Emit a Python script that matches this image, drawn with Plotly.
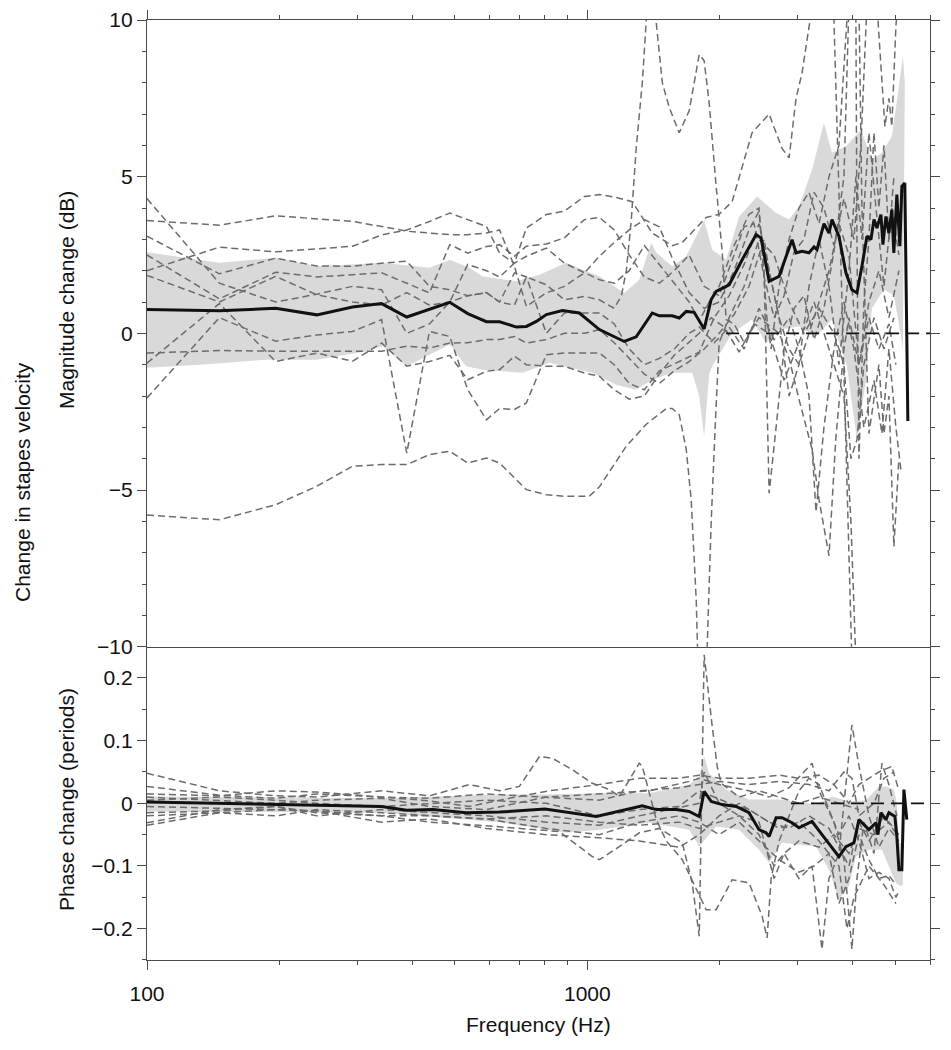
import math
import plotly.graph_objects as go
from plotly.subplots import make_subplots

# ---------------- Magnitude panel (dB) : individual ears (Hz, dB) ----------------
MAG_T1 = [(100,4.3),(146,1.6),(196,1.0),(243,1.25),(293,1.5),(341,1.39),(389,0.0),(438,0.3),(487,1.0),(535,2.2),(590,2.0),(632,1.8),(683,2.24),(727,3.36),(807,3.79),(887,3.9),(985,4.37),(1065,4.43),(1151,4.35),(1265,4.2),(1404,3.2),(1559,2.8),(1643,2.9),(1862,3.7),(1992,3.8),(2132,4.2),(2366,6.4),(2587,7.0),(2768,5.9),(2872,5.6),(2978,7.5),(3072,8.3),(3221,10.2),(3358,12),(3538,12),(3631,10),(3727,4.5),(3826,-1),(3989,-10.5)]
MAG_T2 = [(100,3.6),(146,3.45),(196,3.75),(243,3.65),(293,3.57),(341,3.41),(389,3.26),(438,3.2),(487,3.15),(535,3.15),(590,3.2),(632,3.3),(683,2.14),(727,0.86),(807,1.29),(887,1.5),(985,1.93),(1065,2.46),(1151,2.9),(1245,3.3),(1347,3.63),(1457,3.4),(1559,2.4),(1703,1.3),(1842,0.8),(1992,1.0),(2154,2.0),(2329,3.3),(2454,3.9),(2520,2.0),(2587,-5.1),(2683,-3.0),(2797,-0.5),(2948,0.8),(3104,1.2),(3272,-0.2),(3446,0.8),(3631,2.6),(3826,5.0),(3927,10.5),(4031,12),(4138,10.5),(4203,4),(4360,-3.2),(4593,-1),(4716,-3.2),(4840,-2.0),(4968,-6.8),(5100,-4.0)]
MAG_T3 = [(100,3.1),(146,1.9),(196,2.4),(243,2.15),(293,2.14),(341,2.24),(389,2.3),(438,1.5),(487,1.39),(535,1.2),(590,1.3),(632,1.0),(683,0.9),(727,1.8),(807,1.55),(887,1.07),(985,1.18),(1065,1.07),(1151,0.8),(1195,1.2),(1226,2.0),(1258,3.6),(1291,5.9),(1333,8.0),(1361,10.0),(1397,11.5),(1434,9.9),(1480,8.0),(1535,7.2),(1617,6.4),(1703,7.1),(1795,8.9),(1842,8.7),(1891,7.35),(1961,4.7),(2024,2.6),(2066,0.44),(2154,0.3),(2270,-0.3),(2454,0.5),(2725,0.0),(2872,-0.8),(3024,-2.1),(3238,-3.7),(3358,-5.3),(3538,-7.1),(3669,-3.3),(3826,-0.5),(3927,0.5),(4138,-1.0),(4360,0.5),(4593,-0.5),(4840,0.3),(5020,-1.0)]
MAG_T4 = [(100,2.5),(146,1.1),(196,1.95),(243,1.8),(293,1.87),(341,1.93),(389,1.6),(438,1.29),(487,2.83),(535,2.56),(590,2.77),(632,2.83),(683,2.46),(727,2.78),(807,2.85),(887,3.05),(985,3.63),(1065,3.7),(1151,3.3),(1245,2.5),(1347,1.8),(1457,1.6),(1575,2.0),(1703,2.5),(1842,1.5),(1992,1.2),(2154,2.5),(2270,3.4),(2391,3.5),(2520,1.8),(2655,0.5),(2797,1.2),(2948,2.6),(3104,3.0),(3272,4.5),(3446,4.0),(3631,2.8),(3826,4.3),(4031,3.0),(4181,6.0),(4315,10.5),(4429,12),(4546,10.5),(4642,8.5),(4740,6.6),(4840,7.5),(4915,6.6),(5020,9.8),(5100,11)]
MAG_T5 = [(100,2.0),(146,2.75),(196,2.6),(243,2.7),(293,2.78),(341,3.14),(389,3.3),(438,3.57),(487,3.84),(535,3.63),(590,3.41),(632,2.56),(683,2.24),(727,2.46),(807,2.72),(887,2.24),(985,1.93),(1065,1.71),(1151,1.6),(1245,2.0),(1347,2.8),(1457,2.2),(1575,1.6),(1703,1.0),(1795,0.4),(1891,1.0),(1992,1.5),(2154,2.8),(2329,3.8),(2454,4.0),(2560,0.4),(2614,-0.5),(2725,1.5),(2872,3.0),(3024,4.0),(3187,4.5),(3358,3.5),(3538,5.0),(3727,6.0),(3886,10.5),(3968,12),(4031,12),(4073,10),(4095,3),(4138,-4),(4181,-2),(4247,1),(4360,3),(4476,6.4),(4593,4),(4716,6),(4840,3),(4968,5)]
MAG_T6 = [(100,1.85),(146,1.0),(196,1.82),(243,1.23),(293,1.0),(341,0.9),(389,1.3),(438,0.9),(487,1.0),(535,1.2),(590,1.3),(632,1.0),(683,1.93),(727,1.8),(807,0.0),(887,0.65),(985,0.65),(1065,0.65),(1151,0.3),(1245,-0.5),(1347,-1.0),(1457,-0.8),(1575,-0.5),(1703,0.0),(1795,0.2),(1941,-0.3),(2099,0.2),(2270,-0.5),(2454,0.8),(2655,-0.2),(2872,0.5),(3024,-0.5),(3187,-2.0),(3306,-5.7),(3446,-3.0),(3631,-0.5),(3826,1.0),(4031,-0.5),(4247,-3.0),(4476,-1.5),(4666,-3.2),(4840,-0.5),(5020,-3.0),(5152,-4.35)]
MAG_T7 = [(100,-0.63),(146,-0.55),(196,-0.57),(243,-0.57),(293,-0.57),(341,-0.57),(389,-0.41),(438,-0.47),(487,-0.31),(535,-0.3),(590,-0.2),(632,-0.2),(683,-0.1),(727,-0.31),(807,-0.2),(887,0.0),(985,0.0),(1065,0.12),(1151,-0.3),(1245,-0.8),(1347,-1.3),(1457,-1.6),(1575,-1.2),(1703,-0.9),(1842,-0.5),(1992,0.0),(2154,0.6),(2329,1.5),(2520,3.0),(2587,2.0),(2725,0.5),(2872,-0.5),(3024,-1.0),(3272,0.5),(3538,2.0),(3727,3.5),(3927,2.5),(4138,-1.0),(4360,1.0),(4593,2.0),(4840,0.5),(5100,2.0)]
MAG_T8 = [(100,-0.95),(146,0.95),(196,-0.9),(243,-0.63),(293,-0.89),(341,-0.31),(389,-1.05),(438,-0.9),(487,-0.7),(535,-1.48),(590,-1.21),(632,-1.16),(683,-0.73),(727,-1.0),(807,-1.05),(887,-1.05),(985,-1.27),(1065,-1.37),(1151,-1.8),(1245,-2.1),(1347,-2.0),(1457,-1.3),(1575,-0.7),(1703,-0.3),(1795,0.0),(1911,0.5),(2045,0.2),(2212,-0.6),(2391,0.3),(2587,0.0),(2797,-1.5),(3024,-0.3),(3272,1.0),(3538,-0.5),(3826,-2.0),(3968,-6),(4073,-10.5)]
MAG_T9 = [(100,-2.06),(146,0.5),(196,-0.25),(243,-0.05),(293,0.06),(341,0.44),(389,-3.82),(438,0.06),(487,-0.1),(535,-1.8),(590,-2.76),(632,-2.4),(683,-2.43),(727,-2.22),(807,-0.68),(887,-0.63),(985,-0.63),(1065,-0.63),(1151,-1.0),(1245,-1.6),(1347,-1.8),(1457,-1.2),(1617,-0.9),(1795,-0.6),(1941,0.5),(2099,1.2),(2270,2.2),(2454,3.5),(2587,2.0),(2725,0.5),(2872,-2.0),(3024,-1.0),(3187,1.5),(3358,3.0),(3538,1.5),(3727,-1.0),(3927,2.0),(4073,5.0),(4203,3.0),(4360,6.4),(4523,4.0),(4716,1.5),(4915,4.0),(5100,2.5)]
MAG_T10 = [(100,-5.8),(146,-5.95),(196,-5.47),(243,-4.88),(293,-4.24),(341,-4.19),(389,-4.19),(438,-3.87),(487,-3.76),(535,-4.14),(590,-3.98),(632,-4.14),(727,-4.99),(807,-5.15),(887,-5.2),(1010,-5.2),(1065,-4.9),(1226,-3.6),(1361,-2.9),(1511,-2.4),(1559,-2.4),(1617,-2.6),(1677,-3.7),(1721,-5.3),(1767,-8.5),(1795,-12),(1852,-12),(1871,-10),(1911,-6),(1951,-3.0),(1992,-0.3),(2099,0.5),(2270,1.5),(2454,3.0),(2655,2.5),(2872,1.0),(3104,0.0),(3358,0.8),(3631,0.0),(3826,-1.0),(3968,-4),(4095,-3.4),(4247,-1.0),(4476,0.5),(4716,-0.5),(4968,0.5)]
MAG_EARS = [MAG_T1, MAG_T2, MAG_T3, MAG_T4, MAG_T5, MAG_T6, MAG_T7, MAG_T8, MAG_T9, MAG_T10]

# mean magnitude change (Hz, dB)
MAG_MEAN = [(100,0.76),(146,0.72),(196,0.80),(243,0.59),(293,0.84),(341,0.95),(389,0.52),(487,0.99),(535,0.63),(590,0.37),(632,0.37),(690,0.20),(727,0.22),(766,0.38),(807,0.60),(878,0.73),(959,0.65),(1065,0.12),(1213,-0.26),(1291,-0.11),(1404,0.65),(1457,0.56),(1559,0.56),(1617,0.49),(1677,0.70),(1748,0.67),(1842,0.14),(1911,1.08),(1961,1.34),(2099,1.55),(2247,2.35),(2417,3.15),(2481,3.04),(2587,1.66),(2725,1.82),(2917,2.99),(2978,2.57),(3072,2.62),(3187,2.57),(3272,2.76),(3323,2.67),(3446,3.50),(3538,3.20),(3594,3.63),(3727,3.10),(3866,1.93),(3989,1.39),(4095,1.29),(4203,2.14),(4315,3.10),(4406,2.99),(4476,3.63),(4546,3.36),(4642,3.79),(4691,2.83),(4764,3.73),(4839,3.20),(4915,3.95),(4966,2.57),(5045,4.43),(5125,2.78),(5179,4.69),(5260,4.80),(5315,-0.52),(5344,-2.8)]

# mean +/- 1 SD band (Hz, dB)
MAG_BAND_UP = [(100,2.59),(146,2.25),(196,2.41),(243,2.14),(341,2.25),(438,2.09),(487,2.35),(540,2.09),(577,1.82),(690,1.66),(779,1.87),(896,2.25),(975,2.03),(1065,1.82),(1213,1.29),(1312,1.71),(1397,2.89),(1434,2.57),(1559,2.14),(1677,2.46),(1842,3.60),(1921,2.67),(2066,2.35),(2212,3.73),(2429,4.37),(2683,3.84),(2872,3.63),(3024,4.05),(3238,5.22),(3446,6.71),(3594,5.76),(3866,5.97),(4181,6.50),(4429,5.54),(4666,5.76),(4915,6.29),(5100,7.88),(5206,8.84),(5260,8.0)]
MAG_BAND_LO = [(100,-1.10),(132,-1.0),(187,-0.84),(243,-0.84),(315,-0.57),(343,-0.41),(389,-1.05),(487,-0.36),(531,-1.05),(577,-1.16),(713,-1.26),(820,-0.94),(1026,-1.26),(1163,-1.64),(1291,-1.80),(1404,-1.48),(1559,-1.26),(1730,-1.26),(1795,-2.0),(1842,-3.29),(1891,-1.3),(1921,-1.05),(2132,0.0),(2366,0.44),(2546,-0.31),(2725,0.12),(3024,0.22),(3306,-0.1),(3594,0.44),(3886,-1.05),(4095,-3.4),(4292,-1.5),(4429,0.8),(4716,1.4),(4968,1.2),(5100,0.3),(5206,-0.5),(5260,8.0)]

# ---------------- Phase panel (periods) : individual ears ----------------
PH_T1 = [(100,0.048),(146,0.02),(196,0.012),(243,0.01),(341,0.02),(438,0.012),(540,0.03),(632,0.02),(701,0.027),(779,0.075),(832,0.072),(923,0.054),(1026,0.032),(1122,0.022),(1182,0.011),(1312,0.064),(1333,0.059),(1434,-0.026),(1511,-0.06),(1643,-0.09),(1862,-0.17),(1961,-0.17),(2132,-0.122),(2329,-0.127),(2494,-0.18),(2560,-0.215),(2614,-0.12),(2725,-0.06),(2872,-0.02),(3024,0.02),(3187,0.04),(3358,0.03),(3538,-0.01),(3727,-0.05),(3927,-0.02),(4138,-0.06),(4360,-0.12),(4593,-0.11),(4840,-0.12),(5020,-0.15),(5100,-0.14)]
PH_T2 = [(100,0.027),(146,0.013),(196,0.008),(243,0.015),(341,0.01),(438,0.004),(540,-0.005),(632,0.005),(820,0.02),(1065,0.03),(1312,0.04),(1617,0.04),(1795,0.045),(1992,0.04),(2329,0.04),(2725,0.045),(3024,0.04),(3358,0.045),(3631,0.03),(3927,0.0),(4138,0.03),(4593,0.05),(4915,0.059),(5100,0.02)]
PH_T3 = [(100,-0.031),(146,-0.01),(196,-0.005),(243,-0.015),(341,-0.02),(438,-0.03),(569,-0.035),(701,-0.04),(864,-0.045),(1026,-0.085),(1065,-0.09),(1182,-0.069),(1312,-0.047),(1457,-0.04),(1643,-0.063),(1730,-0.127),(1795,-0.212),(1842,0.237),(1871,0.192),(1921,0.123),(1972,0.059),(2013,0.032),(2212,0.01),(2454,0.02),(2725,0.01),(3024,0.0),(3358,0.01),(3727,0.0),(4138,-0.01)]
PH_T4 = [(100,-0.015),(146,-0.012),(196,-0.005),(243,-0.02),(341,-0.01),(438,-0.015),(590,-0.02),(807,-0.03),(1065,-0.035),(1312,-0.02),(1535,-0.01),(1795,0.0),(1842,0.05),(1992,0.0),(2212,-0.02),(2454,-0.05),(2655,-0.1),(2797,-0.08),(3024,-0.12),(3238,-0.1),(3411,-0.233),(3538,-0.12),(3727,-0.08),(3989,0.125),(4138,0.06),(4360,-0.02),(4593,-0.07),(4840,-0.04),(5100,-0.06)]
PH_T5 = [(100,0.01),(146,0.005),(196,0.0),(243,0.005),(341,0.008),(438,-0.005),(590,-0.01),(807,0.01),(1065,0.015),(1382,0.02),(1703,0.035),(1795,0.04),(1992,0.03),(2329,0.02),(2587,0.01),(2872,0.025),(3238,0.064),(3358,0.02),(3631,-0.03),(3826,-0.09),(3989,-0.233),(4095,-0.12),(4247,-0.03),(4476,-0.08),(4666,0.064),(4840,0.03),(5045,-0.02)]
PH_T6 = [(100,-0.02),(146,-0.015),(196,-0.02),(243,-0.01),(341,-0.015),(438,-0.02),(590,-0.025),(807,-0.04),(1065,-0.05),(1312,-0.03),(1617,-0.02),(1795,-0.03),(1992,-0.05),(2212,-0.03),(2454,-0.06),(2725,-0.09),(3024,-0.11),(3272,-0.1),(3538,-0.08),(3727,-0.16),(3927,-0.12),(4138,-0.05),(4360,-0.09),(4593,-0.12),(4840,-0.115),(5020,-0.13)]
PH_T7 = [(100,0.005),(146,0.01),(196,0.005),(243,0.0),(341,-0.005),(438,0.0),(590,0.005),(807,0.0),(1065,-0.02),(1312,-0.01),(1617,-0.005),(1795,0.02),(1941,0.01),(2099,0.0),(2329,-0.01),(2587,-0.03),(2872,-0.04),(3187,-0.02),(3538,-0.04),(3927,-0.1),(4138,-0.03),(4360,-0.06),(4716,-0.02),(5045,-0.05)]
PH_T8 = [(100,-0.035),(146,-0.015),(196,-0.01),(243,-0.012),(341,-0.03),(438,-0.025),(590,-0.04),(807,-0.05),(1065,-0.055),(1312,-0.06),(1617,-0.07),(1795,-0.05),(1992,-0.02),(2212,0.0),(2454,-0.02),(2725,-0.04),(3024,-0.03),(3358,-0.06),(3727,-0.1),(3886,-0.2),(4031,-0.15),(4360,-0.1),(4716,-0.13),(5020,-0.16)]
PH_T9 = [(100,0.015),(146,0.012),(196,0.02),(243,0.018),(341,0.01),(438,0.008),(590,0.015),(807,0.01),(1065,0.005),(1312,0.02),(1617,0.025),(1795,0.03),(1992,0.035),(2329,0.03),(2725,0.035),(3187,0.03),(3538,0.02),(3826,0.05),(3989,0.04),(4138,-0.02),(4476,0.0),(4716,0.04),(4968,0.05)]
PH_T10 = [(100,-0.005),(146,-0.008),(196,-0.01),(243,-0.012),(341,-0.02),(438,-0.02),(590,-0.025),(807,-0.02),(1065,-0.03),(1312,-0.035),(1617,-0.03),(1795,-0.04),(1992,-0.03),(2212,-0.02),(2454,-0.03),(2655,-0.12),(2797,-0.08),(3024,-0.06),(3358,-0.07),(3631,-0.05),(3927,-0.08),(4138,-0.04),(4476,-0.05),(4840,-0.03),(5100,-0.05)]
PH_EARS = [PH_T1, PH_T2, PH_T3, PH_T4, PH_T5, PH_T6, PH_T7, PH_T8, PH_T9, PH_T10]

PH_MEAN = [(100,0.002),(146,0.0),(196,-0.002),(341,-0.005),(389,-0.011),(446,-0.010),(531,-0.015),(632,-0.014),(801,-0.009),(1048,-0.021),(1333,-0.004),(1434,-0.010),(1592,-0.010),(1703,-0.013),(1795,-0.021),(1842,0.019),(1911,0.003),(2024,-0.002),(2177,-0.005),(2329,-0.015),(2454,-0.042),(2546,-0.047),(2587,-0.053),(2683,-0.023),(2768,-0.023),(2917,-0.031),(3024,-0.039),(3238,-0.029),(3411,-0.050),(3594,-0.071),(3727,-0.085),(3866,-0.069),(4031,-0.063),(4138,-0.026),(4360,-0.042),(4523,-0.031),(4570,-0.050),(4642,-0.015),(4764,-0.026),(4840,-0.015),(4994,-0.021),(5045,-0.053),(5100,-0.106),(5179,-0.106),(5235,0.022),(5315,-0.026)]
PH_BAND_UP = [(100,0.011),(340,0.008),(632,0.014),(807,0.014),(1065,0.016),(1382,0.016),(1703,0.03),(1795,0.043),(1842,0.075),(1891,0.048),(2066,0.022),(2329,0.006),(2768,0.006),(3306,-0.002),(3594,0.011),(3927,0.003),(4292,0.005),(4593,0.027),(4789,0.027),(4968,0.022),(5045,0.0),(5100,-0.06),(5206,-0.07)]
PH_BAND_LO = [(100,-0.013),(340,-0.015),(632,-0.03),(896,-0.047),(1065,-0.042),(1382,-0.031),(1703,-0.042),(1795,-0.069),(1961,-0.037),(2212,-0.042),(2454,-0.074),(2587,-0.095),(2768,-0.063),(3306,-0.069),(3538,-0.106),(3727,-0.154),(3927,-0.132),(4073,-0.085),(4360,-0.074),(4666,-0.074),(5020,-0.127),(5152,-0.132),(5206,-0.13)]

ZERO_MAG_FROM = 2066
ZERO_PH_FROM = 2900
F_MAX = 6000

X_MAJOR = [100, 1000]
X_MAJOR_TEXT = ["100", "1000"]
X_MINOR = [200, 300, 400, 500, 600, 700, 800, 900, 2000, 3000, 4000, 5000, 6000]
MAG_TICKS = [-10, -5, 0, 5, 10]
MAG_TICKTEXT = ["\u221210", "\u22125", "0", "5", "10"]
PH_TICKS = [-0.2, -0.1, 0, 0.1, 0.2]
PH_TICKTEXT = ["\u22120.2", "\u22120.1", "0", "0.1", "0.2"]

FONT = "Liberation Sans, Arial, Helvetica, sans-serif"
DASH_COL = "#6c6c6c"
BAND_COL = "#d9d9d9"
AX_COL = "#4a4a4a"

fig = make_subplots(rows=2, cols=1, shared_xaxes=False, vertical_spacing=0.0,
                    row_heights=[2/3, 1/3])

def xs(pairs):
    return [p[0] for p in pairs]

def ys(pairs):
    return [p[1] for p in pairs]

def add_band(up, lo, row):
    fig.add_trace(go.Scatter(x=xs(up) + xs(lo)[::-1], y=ys(up) + ys(lo)[::-1],
                             fill="toself", fillcolor=BAND_COL, line=dict(width=0),
                             mode="lines", hoverinfo="skip", showlegend=False), row=row, col=1)

add_band(MAG_BAND_UP, MAG_BAND_LO, 1)
add_band(PH_BAND_UP, PH_BAND_LO, 2)

DASH = dict(color=DASH_COL, width=1.5, dash="7px,4px")
for tr in MAG_EARS:
    fig.add_trace(go.Scatter(x=xs(tr), y=ys(tr), mode="lines", line=DASH, showlegend=False), row=1, col=1)
for tr in PH_EARS:
    fig.add_trace(go.Scatter(x=xs(tr), y=ys(tr), mode="lines", line=DASH, showlegend=False), row=2, col=1)

fig.add_trace(go.Scatter(x=[ZERO_MAG_FROM, F_MAX], y=[0, 0], mode="lines",
                         line=dict(color="#111", width=1.6, dash="13px,7px"), showlegend=False), row=1, col=1)
fig.add_trace(go.Scatter(x=[ZERO_PH_FROM, F_MAX], y=[0, 0], mode="lines",
                         line=dict(color="#111", width=1.6, dash="13px,7px"), showlegend=False), row=2, col=1)

fig.add_trace(go.Scatter(x=xs(MAG_MEAN), y=ys(MAG_MEAN), mode="lines",
                         line=dict(color="#111", width=3), showlegend=False), row=1, col=1)
fig.add_trace(go.Scatter(x=xs(PH_MEAN), y=ys(PH_MEAN), mode="lines",
                         line=dict(color="#111", width=3), showlegend=False), row=2, col=1)

TICK_FONT = dict(family=FONT, size=21, color="#111")
xr = [2, math.log10(F_MAX)]
common_x = dict(type="log", range=xr, showgrid=False, zeroline=False, automargin=False,
                showline=True, linecolor=AX_COL, linewidth=1.3,
                ticks="outside", tickcolor=AX_COL, tickwidth=1.3, ticklen=9,
                tickvals=X_MAJOR,
                minor=dict(tickvals=X_MINOR, ticks="outside", ticklen=4, tickcolor=AX_COL, tickwidth=1.3),
                tickfont=TICK_FONT)
fig.update_xaxes(**common_x, side="top", showticklabels=False, mirror=True, row=1, col=1)
fig.update_xaxes(**common_x, side="bottom", ticktext=X_MAJOR_TEXT, mirror=False, ticklabelstandoff=6,
                 row=2, col=1)

common_y = dict(showgrid=False, zeroline=False, showline=True, linecolor=AX_COL, linewidth=1.3,
                automargin=False,
                ticks="outside", tickcolor=AX_COL, tickwidth=1.3, ticklen=9, mirror="allticks",
                tickfont=TICK_FONT)
fig.update_yaxes(**common_y, range=[-10, 10], tickvals=MAG_TICKS, ticktext=MAG_TICKTEXT,
                 minor=dict(dtick=1, ticks="outside", ticklen=4, tickcolor=AX_COL, tickwidth=1.3),
                 row=1, col=1)
fig.update_yaxes(**common_y, range=[-0.25, 0.25], tickvals=PH_TICKS, ticktext=PH_TICKTEXT,
                 minor=dict(dtick=0.05, ticks="outside", ticklen=4, tickcolor=AX_COL, tickwidth=1.3),
                 row=2, col=1)

# page has an 8px body margin; plot area should span page x 147..930, y 20..960
OFF = 8
W, H = 951, 1050
L, T = 147 - OFF, 20 - OFF
PW, PH = 783, 940
R, B = W - L - PW, H - T - PH

def px_x(px):
    return (px - OFF - L) / PW

def px_y(py):
    return (H - B - (py - OFF)) / PH

ann_font = dict(family=FONT, size=21, color="#111")
fig.add_annotation(text="Change in stapes velocity", x=px_x(22), y=px_y(482), xref="paper", yref="paper",
                   textangle=-90, showarrow=False, font=ann_font, xanchor="center", yanchor="middle")
fig.add_annotation(text="Magnitude change (dB)", x=px_x(66), y=px_y(300), xref="paper", yref="paper",
                   textangle=-90, showarrow=False, font=ann_font, xanchor="center", yanchor="middle")
fig.add_annotation(text="Phase change (periods)", x=px_x(66), y=px_y(800), xref="paper", yref="paper",
                   textangle=-90, showarrow=False, font=ann_font, xanchor="center", yanchor="middle")
fig.add_annotation(text="Frequency (Hz)", x=px_x(538), y=px_y(1024), xref="paper", yref="paper",
                   showarrow=False, font=ann_font, xanchor="center", yanchor="middle")

fig.update_layout(width=W, height=H, margin=dict(l=L, r=R, t=T, b=B, autoexpand=False),
                  paper_bgcolor="white", plot_bgcolor="white", showlegend=False)

fig.write_html("out.html")
